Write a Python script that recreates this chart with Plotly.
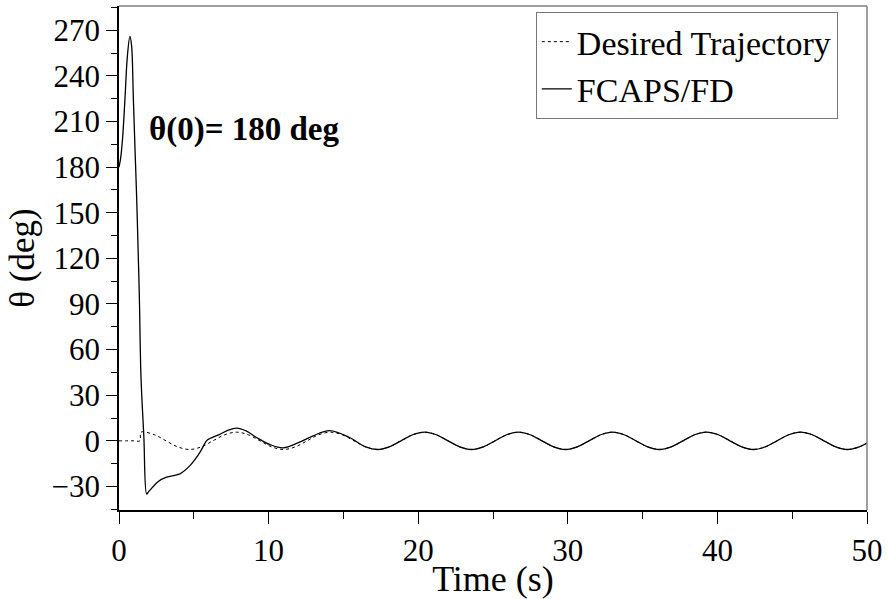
import plotly.graph_objects as go

# Desired trajectory (deg)
t_des = [0, 0.50, 1.00, 1.40, 1.47, 2.36, 3.14, 3.93, 4.71, 5.50, 6.28, 7.07, 7.85, 8.64, 9.42, 10.21,
         11.00, 11.78, 12.57, 13.35, 14.14, 14.92, 15.71, 16.49, 17.28, 18.06, 18.85,
         19.63, 20.42, 21.21, 21.99, 22.78, 23.56, 24.35, 25.13, 25.92, 26.70, 27.49,
         28.27, 29.06, 29.85, 30.63, 31.42, 32.20, 32.99, 33.77, 34.56, 35.34, 36.13,
         36.91, 37.70, 38.48, 39.27, 40.06, 40.84, 41.63, 42.41, 43.20, 43.98, 44.77,
         45.55, 46.34, 47.12, 47.91, 48.69, 49.48, 50.00]
y_des = [0, 0, 0, 0, 5.7, 4.0, 0, -4.0, -5.7, -4.0, 0, 4.0, 5.7, 4.0, 0, -4.0,
         -5.7, -4.0, 0, 4.0, 5.7, 4.0, 0, -4.0, -5.7, -4.0, 0,
         4.0, 5.7, 4.0, 0, -4.0, -5.7, -4.0, 0, 4.0, 5.7, 4.0,
         0, -4.0, -5.7, -4.0, 0, 4.0, 5.7, 4.0, 0, -4.0, -5.7,
         -4.0, 0, 4.0, 5.7, 4.0, 0, -4.0, -5.7, -4.0, 0, 4.0,
         5.7, 4.0, 0, -4.0, -5.7, -4.0, -1.5]

# FCAPS/FD response (deg)
t_act = [0, 0.11, 0.24, 0.40, 0.56, 0.73, 0.84, 0.96, 1.07, 1.18, 1.29, 1.36, 1.47,
         1.66, 1.85, 1.96, 2.63, 3.18, 4.07, 4.74, 5.41, 5.85, 6.07, 6.74, 7.30, 7.86,
         8.50, 9.19, 10.10, 10.97, 12.00, 12.97, 14.08, 15.40, 16.49, 17.28, 18.06,
         18.85, 19.63, 20.42, 21.21, 21.99, 22.78, 23.56, 24.35, 25.13, 25.92, 26.70,
         27.49, 28.27, 29.06, 29.85, 30.63, 31.42, 32.20, 32.99, 33.77, 34.56, 35.34,
         36.13, 36.91, 37.70, 38.48, 39.27, 40.06, 40.84, 41.63, 42.41, 43.20, 43.98,
         44.77, 45.55, 46.34, 47.12, 47.91, 48.69, 49.48, 50.00]
y_act = [180, 186, 199, 225, 253, 266, 260, 225, 192, 160, 121, 95, 42,
         3, -35, -33.7, -26.7, -23.9, -21.7, -16.3, -7.6, 0, 1.5, 4.3, 7.0, 8.4,
         6.5, 2.2, -2.5, -4.6, -1.2, 3.3, 6.7, 2.2, -4.0, -5.7, -4.0,
         0, 4.0, 5.7, 4.0, 0, -4.0, -5.7, -4.0, 0, 4.0, 5.7,
         4.0, 0, -4.0, -5.7, -4.0, 0, 4.0, 5.7, 4.0, 0, -4.0,
         -5.7, -4.0, 0, 4.0, 5.7, 4.0, 0, -4.0, -5.7, -4.0, 0,
         4.0, 5.7, 4.0, 0, -4.0, -5.7, -4.0, -1.5]

y_ticks = [-30, 0, 30, 60, 90, 120, 150, 180, 210, 240, 270]
x_ticks = [0, 10, 20, 30, 40, 50]

FONT = "Liberation Serif"

fig = go.Figure()
fig.add_trace(go.Scatter(x=t_des, y=y_des, mode="lines", name="Desired Trajectory",
                         line=dict(color="black", width=1, dash="dot", shape="spline")))
fig.add_trace(go.Scatter(x=t_act, y=y_act, mode="lines", name="FCAPS/FD",
                         line=dict(color="black", width=1.3, shape="spline")))

fig.update_layout(
    width=889, height=599,
    margin=dict(l=119, r=21, t=6, b=84),
    paper_bgcolor="white", plot_bgcolor="white",
    font=dict(family=FONT, color="black"),
    showlegend=True,
    legend=dict(x=0.961, y=0.988, xanchor="right", yanchor="top",
                font=dict(family=FONT, size=34, color="black"),
                bordercolor="#777777", borderwidth=1, bgcolor="white",
                itemwidth=30, tracegroupgap=0),
    xaxis=dict(range=[0, 50], tickvals=x_ticks, ticks="outside", ticklen=12, tickwidth=1.3,
               tickcolor="black", showline=True, linecolor="black", linewidth=1.5,
               showgrid=False, zeroline=False,
               tickfont=dict(family=FONT, size=31),
               minor=dict(dtick=5, ticks="outside", ticklen=7, tickcolor="black", tickwidth=1),
               title=dict(text="Time (s)", font=dict(family=FONT, size=36), standoff=0)),
    yaxis=dict(range=[-45.5, 286], tickvals=y_ticks, ticks="outside", ticklen=11, tickwidth=1.3,
               tickcolor="black", showline=True, linecolor="black", linewidth=1.5,
               showgrid=False, zeroline=False,
               tickfont=dict(family=FONT, size=31),
               minor=dict(tick0=-45, dtick=15, ticks="outside", ticklen=6, tickcolor="black", tickwidth=1),
               title=dict(text="θ (deg)", font=dict(family=FONT, size=35), standoff=6)),
    shapes=[
        dict(type="line", xref="paper", yref="paper", x0=0, x1=1, y0=1, y1=1,
             line=dict(color="#808080", width=1.5)),
        dict(type="line", xref="paper", yref="paper", x0=1, x1=1, y0=0, y1=1,
             line=dict(color="#808080", width=1.5)),
    ],
    annotations=[
        dict(x=1.85, y=205, xref="x", yref="y", xanchor="left", yanchor="middle",
             text="<b>θ(0)= 180 deg</b>", showarrow=False,
             font=dict(family=FONT, size=33, color="black")),
    ],
)

fig.write_html("out.html")
